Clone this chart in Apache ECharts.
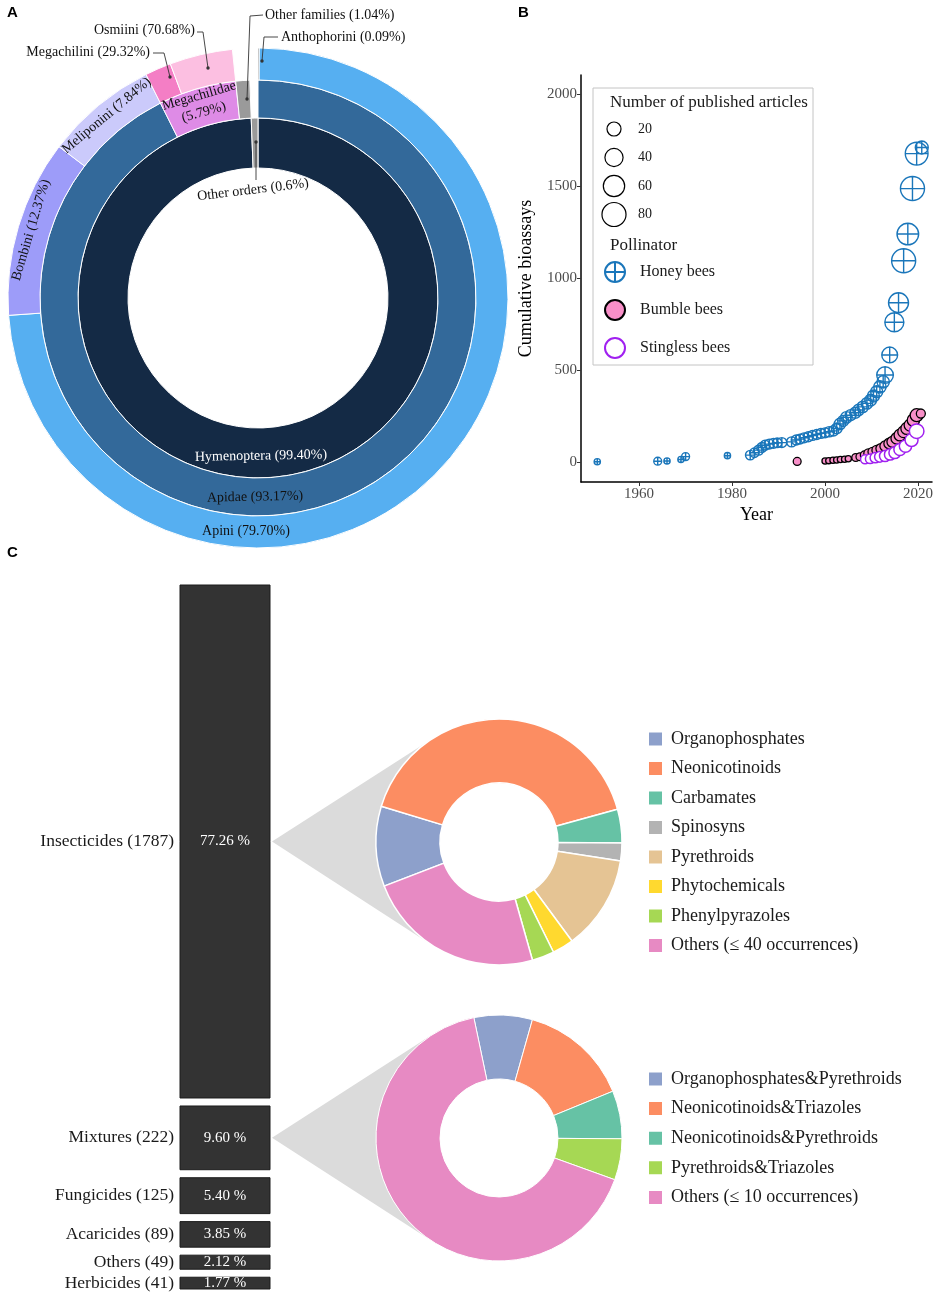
<!DOCTYPE html>
<html><head><meta charset="utf-8">
<script src="https://cdn.jsdelivr.net/npm/echarts@6/dist/echarts.min.js"></script>
<style>html,body{margin:0;padding:0;background:#fff}#c{width:942px;height:1299px}</style>
</head><body><div id="c"></div>
<script>
// ---------- Panel A data ----------
const orderNames = ['Hymenoptera', 'Other orders'];
const orderPct = [99.40, 0.6];
const familyNames = ['Apidae', 'Megachilidae', 'Other families'];
const familyPct = [93.17, 5.79, 1.04];
const apidaeTribeNames = ['Anthophorini', 'Apini', 'Bombini', 'Meliponini'];
const apidaeTribePct = [0.09, 79.70, 12.37, 7.84];
const megaTribeNames = ['Megachilini', 'Osmiini'];
const megaTribePct = [29.32, 70.68];

// ---------- Panel B data ----------
const honeyYear = [1951,1964,1966,1969,1970,1979,1983.9,1984.8,1985.7,1986.4,1987.1,1988,1988.9,1989.7,1990.7,1992.8,1993.8,1994.6,1995.5,1996.4,1997.3,1998.2,1999.1,2000,2000.9,2001.8,2002.5,2003.2,2003.9,2004.6,2005.5,2006.5,2007.2,2008.1,2009,2009.8,2010.4,2011.1,2011.8,2012.5,2012.9,2013.9,2014.9,2015.8,2016.9,2017.8,2018.8,2019.7,2020.8];
const honeyCum = [2,5,6,14,30,35,38,51,65,80,92,98,102,105,106,110,120,125,132,138,145,150,156,159,165,170,183,207,224,243,255,268,283,300,319,337,359,382,409,436,473,582,760,866,1094,1239,1486,1676,1709];
const honeyArticles = [1,3,1,1,3,1,6,6,7,7,7,7,7,6,7,7,7,7,7,7,7,7,7,7,8,8,9,11,10,11,10,10,11,11,11,12,13,13,14,14,32,28,45,51,80,62,80,70,16];
const bumbleYear = [1994,2000,2000.8,2001.7,2002.5,2003.3,2004.2,2005,2006.6,2007.5,2008.5,2009.3,2010.2,2011.1,2012,2012.9,2013.8,2014.5,2015.4,2016.1,2016.9,2017.6,2018.3,2019,2019.7,2020.6];
const bumbleCum = [4,6,8,10,12,14,16,18,25,29,38,47,56,65,74,87,101,110,129,147,165,183,201,228,255,264];
const bumbleArticles = [3,1,1,1,1,1,1,1,3,3,4,5,5,6,7,8,9,10,11,12,12,13,13,14,16,5];
const stinglessYear = [2008.6,2009.7,2010.8,2011.8,2012.9,2014,2015,2016.1,2017.3,2018.6,2019.7];
const stinglessCum = [15,18,24,29,33,42,51,69,87,120,168];
const stinglessArticles = [5,6,8,9,10,11,12,13,14,16,22];
const sizeLegendValues = [20, 40, 60, 80];
const yTicks = [0, 500, 1000, 1500, 2000];
const xTicks = [1960, 1980, 2000, 2020];

// ---------- Panel C data ----------
const classNames = ['Insecticides', 'Mixtures', 'Fungicides', 'Acaricides', 'Others', 'Herbicides'];
const classCounts = [1787, 222, 125, 89, 49, 41];
const insectNames = ['Organophosphates', 'Neonicotinoids', 'Carbamates', 'Spinosyns', 'Pyrethroids', 'Phytochemicals', 'Phenylpyrazoles', 'Others (≤ 40 occurrences)'];
const insectCounts = [188, 733, 79, 42, 222, 50, 52, 421];
const mixNames = ['Organophosphates&Pyrethroids', 'Neonicotinoids&Triazoles', 'Neonicotinoids&Pyrethroids', 'Pyrethroids&Triazoles', 'Others (≤ 10 occurrences)'];
const mixCounts = [17, 32, 14, 12, 147];

// ---------- styles ----------
const SERIF = '"Liberation Serif", "Times New Roman", serif';
const SANS = '"Liberation Sans", Arial, sans-serif';
const orderColors = ['#142a45', '#9a9a9a'];
const familyColors = ['#33699a', '#de8be6', '#9a9a9a'];
const apidaeTribeColors = ['#4a4a4a', '#56aff1', '#9d9cf9', '#cbcafb'];
const megaTribeColors = ['#f47ec5', '#fcbfe1'];
const insectColors = ['#8da0cb', '#fc8d62', '#66c2a5', '#b3b3b3', '#e5c494', '#ffd92f', '#a6d854', '#e78ac3'];
const mixColors = ['#8da0cb', '#fc8d62', '#66c2a5', '#a6d854', '#e78ac3'];
const honeyColor = '#1a76ba';
const A_CENTER = [258, 298];
const GAP = 8;

const sizeOf = v => 4 + 2.24 * Math.sqrt(v);
const pctLabel = (n, p) => n + ' (' + p.toFixed(2) + '%)';

// Panel A rings
const ringLabel = (extra) => Object.assign({show: true, position: 'inside', rotate: 'tangential', fontFamily: SERIF, fontSize: 14, color: '#111'}, extra || {});
const blank = v => ({name: '', value: v, itemStyle: {color: 'rgba(0,0,0,0)', borderWidth: 0}, label: {show: false}});

const ring1 = orderNames.map((n, i) => ({
  name: n, value: orderPct[i], itemStyle: {color: orderColors[i]},
  label: i === 0 ? ringLabel({color: '#fff', formatter: pctLabel(n, orderPct[i])}) : {show: false}
}));
const hym = orderPct[0] / 100;
const ring2 = familyNames.map((n, i) => ({
  name: n, value: hym * familyPct[i], itemStyle: {color: familyColors[i]},
  label: i === 1 ? ringLabel({formatter: n + '\n(' + familyPct[i].toFixed(2) + '%)', lineHeight: 17}) : {show: false}
})).concat([blank(orderPct[1])]);
const apid = hym * familyPct[0] / 100, mega = hym * familyPct[1] / 100;
const ring3 = apidaeTribeNames.map((n, i) => ({
  name: n, value: apid * apidaeTribePct[i], itemStyle: {color: apidaeTribeColors[i]},
  label: (i === 2 || i === 3) ? ringLabel({formatter: pctLabel(n, apidaeTribePct[i])}) : {show: false}
})).concat(megaTribeNames.map((n, i) => ({
  name: n, value: mega * megaTribePct[i], itemStyle: {color: megaTribeColors[i]}, label: {show: false}
}))).concat([blank(hym * familyPct[2] + orderPct[1])]);

function ringSeries(data, radius) {
  return {type: 'pie', center: A_CENTER, radius: radius, startAngle: 90, clockwise: true, silent: true,
    itemStyle: {borderColor: '#fff', borderWidth: 1}, labelLine: {show: false}, data: data, z: 3};
}

// Panel C bar (cumulative)
const total = classCounts.reduce((a, b) => a + b, 0);
let acc = 0;
const barData = classCounts.map(c => { const r = [acc, acc + c]; acc += c; return r; });
const BAR_TOP = 585, BAR_H = 664;
const barMidY = i => BAR_TOP + (barData[i][0] + classCounts[i] / 2) * BAR_H / total + i * GAP;

// cone polygons
function conePoints(ax, ay, cx, cy, R) {
  const dx = ax - cx, dy = ay - cy, d = Math.hypot(dx, dy);
  const base = Math.atan2(dy, dx), t = Math.acos(R / d);
  const pts = [[ax, ay]];
  for (let k = 0; k <= 40; k++) { const a = base - t + 2 * t * k / 40; pts.push([cx + R * Math.cos(a), cy + R * Math.sin(a)]); }
  return pts;
}
const P1 = [499, 842], P2 = [499, 1138], PR = [59, 123];

// graphic helpers
function txt(x, y, text, o) {
  o = o || {};
  return {type: 'text', x: x, y: y, rotation: o.rot || 0, z: 10,
    style: {text: text, font: (o.weight || '') + ' ' + (o.size || 14) + 'px ' + (o.family || SERIF), fill: o.color || '#111',
      align: o.align || 'left', textAlign: o.align || 'left', verticalAlign: o.va || 'middle', textVerticalAlign: o.va || 'middle'}};
}
const leader = pts => ({type: 'polyline', z: 10, shape: {points: pts}, style: {stroke: '#333', lineWidth: 0.9, fill: null}});
const dot = (x, y) => ({type: 'circle', z: 10, shape: {cx: x, cy: y, r: 1.7}, style: {fill: '#333'}});

const graphics = [
  txt(7, 13, 'A', {family: SANS, weight: 'bold', size: 15, color: '#000'}),
  txt(518, 13, 'B', {family: SANS, weight: 'bold', size: 15, color: '#000'}),
  txt(7, 553, 'C', {family: SANS, weight: 'bold', size: 15, color: '#000'}),
  // Panel A annotations
  txt(195, 30, pctLabel(megaTribeNames[1], megaTribePct[1]), {align: 'right'}),
  leader([[197, 32], [203, 32], [208, 68]]), dot(208, 68),
  txt(150, 52, pctLabel(megaTribeNames[0], megaTribePct[0]), {align: 'right'}),
  leader([[153, 53], [164, 53], [170, 77]]), dot(170, 77),
  txt(265, 15, pctLabel(familyNames[2], familyPct[2])),
  leader([[263, 15], [250, 16], [247, 99]]), dot(247, 99),
  txt(281, 37, pctLabel(apidaeTribeNames[0], apidaeTribePct[0])),
  leader([[278, 37], [264, 37], [262, 61]]), dot(262, 61),
  leader([[256, 142], [256, 180]]), dot(256, 142),
  txt(253, 190, orderNames[1] + ' (' + orderPct[1] + '%)', {align: 'center', rot: 0.12}),
  txt(255, 497, pctLabel(familyNames[0], familyPct[0]), {align: 'center', rot: 0.02}),
  txt(246, 531, pctLabel(apidaeTribeNames[1], apidaeTribePct[1]), {align: 'center'}),
  // Panel B legend box
  {type: 'rect', z: 0, shape: {x: 593, y: 88, width: 220, height: 277}, style: {fill: '#fff', stroke: '#c4c4c4', lineWidth: 1}},
  txt(610, 103, 'Number of published articles', {size: 17, color: '#1a1a1a'}),
  txt(610, 246, 'Pollinator', {size: 17, color: '#1a1a1a'}),
  // Panel C cones
  {type: 'polygon', z: 0, shape: {points: conePoints(272, barMidY(0), P1[0], P1[1], PR[1])}, style: {fill: '#dbdbdb'}},
  {type: 'polygon', z: 0, shape: {points: conePoints(272, barMidY(1), P2[0], P2[1], PR[1])}, style: {fill: '#dbdbdb'}}
];
sizeLegendValues.forEach((v, i) => {
  const cy = 129 + i * 28.5;
  graphics.push({type: 'circle', z: 10, shape: {cx: 614, cy: cy, r: sizeOf(v) / 2}, style: {fill: '#fff', stroke: '#000', lineWidth: 1.2}});
  graphics.push(txt(638, cy, String(v), {size: 14, color: '#1a1a1a'}));
});

const honeyPath = 'path://M10,0A10,10,0,1,1,-10,0A10,10,0,1,1,10,0ZM-10,0L10,0M0,-10L0,10';
const zip3 = (a, b, c) => a.map((x, i) => [x, b[i], c[i]]);
const axisText = {fontFamily: SERIF, fontSize: 15, color: '#4d4d4d', formatter: v => String(v)};

const option = {
  animation: false,
  backgroundColor: '#fff',
  graphic: {elements: graphics},
  grid: [
    {left: 581, top: 75, width: 351, height: 407},
    {left: 180, top: BAR_TOP, width: 90, height: BAR_H}
  ],
  xAxis: [
    {gridIndex: 0, type: 'value', min: 1947.5, max: 2023, name: 'Year', nameLocation: 'middle', nameGap: 24,
      nameTextStyle: {fontFamily: SERIF, fontSize: 18, color: '#000'},
      axisLine: {show: true, onZero: false, lineStyle: {color: '#000', width: 1.5}},
      axisTick: {show: true, length: 4, customValues: xTicks, lineStyle: {color: '#333'}},
      axisLabel: Object.assign({customValues: xTicks, margin: 5}, axisText), splitLine: {show: false}},
    {gridIndex: 1, type: 'value', min: 0, max: 1, show: false}
  ],
  yAxis: [
    {gridIndex: 0, type: 'value', min: -108, max: 2103, name: 'Cumulative bioassays', nameLocation: 'middle', nameGap: 46, nameRotate: 90,
      nameTextStyle: {fontFamily: SERIF, fontSize: 18, color: '#000'},
      axisLine: {show: true, onZero: false, lineStyle: {color: '#000', width: 1.5}},
      axisTick: {show: true, length: 4, customValues: yTicks, lineStyle: {color: '#333'}},
      axisLabel: Object.assign({customValues: yTicks, margin: 4}, axisText), splitLine: {show: false}},
    {gridIndex: 1, type: 'value', min: 0, max: total, inverse: true, show: false}
  ],
  legend: [
    {data: ['Honey bees', 'Bumble bees', 'Stingless bees'], orient: 'vertical', left: 604, top: 261, padding: 0,
      itemWidth: 20, itemHeight: 20, itemGap: 16, selectedMode: false,
      textStyle: {fontFamily: SERIF, fontSize: 16, color: '#1a1a1a', padding: [0, 0, 0, 10]}},
    {data: insectNames.map(n => ({name: n, icon: 'rect'})), orient: 'vertical', left: 647, top: 730, padding: 0,
      itemWidth: 15, itemHeight: 15, itemGap: 11.5, selectedMode: false,
      textStyle: {fontFamily: SERIF, fontSize: 18, color: '#1a1a1a', padding: [0, 0, 0, 3]}},
    {data: mixNames.map(n => ({name: n, icon: 'rect'})), orient: 'vertical', left: 647, top: 1070, padding: 0,
      itemWidth: 15, itemHeight: 15, itemGap: 11.6, selectedMode: false,
      textStyle: {fontFamily: SERIF, fontSize: 18, color: '#1a1a1a', padding: [0, 0, 0, 3]}}
  ],
  series: [
    ringSeries(ring1, [130, 180]),
    ringSeries(ring2, [180, 218]),
    ringSeries(ring3, [218, 250]),
    {type: 'scatter', name: 'Honey bees', xAxisIndex: 0, yAxisIndex: 0, symbol: honeyPath,
      symbolSize: v => sizeOf(v[2]), data: zip3(honeyYear, honeyCum, honeyArticles),
      itemStyle: {color: 'rgba(255,255,255,0)', borderColor: honeyColor, borderWidth: 1.4, opacity: 1}},
    {type: 'scatter', name: 'Bumble bees', xAxisIndex: 0, yAxisIndex: 0, symbol: 'circle',
      symbolSize: v => sizeOf(v[2]), data: zip3(bumbleYear, bumbleCum, bumbleArticles),
      itemStyle: {color: '#f88fc8', borderColor: '#000', borderWidth: 1.3, opacity: 1}},
    {type: 'scatter', name: 'Stingless bees', xAxisIndex: 0, yAxisIndex: 0, symbol: 'circle',
      symbolSize: v => sizeOf(v[2]), data: zip3(stinglessYear, stinglessCum, stinglessArticles),
      itemStyle: {color: '#fff', borderColor: '#a020f0', borderWidth: 1.5, opacity: 1}},
    {type: 'custom', xAxisIndex: 1, yAxisIndex: 1, clip: false, data: barData, silent: true,
      renderItem: function (params, api) {
        const i = params.dataIndex;
        const p0 = api.coord([0, api.value(0)]), p1 = api.coord([1, api.value(1)]);
        const y0 = p0[1] + i * GAP, y1 = p1[1] + i * GAP, x0 = p0[0], x1 = p1[0];
        const ym = (y0 + y1) / 2;
        return {type: 'group', children: [
          {type: 'rect', shape: {x: x0, y: y0, width: x1 - x0, height: y1 - y0}, style: {fill: '#333333', stroke: '#1c1c1c', lineWidth: 1}},
          {type: 'text', x: (x0 + x1) / 2, y: ym, style: {text: (classCounts[i] / total * 100).toFixed(2) + ' %', fill: '#fff',
            font: '15px ' + SERIF, align: 'center', verticalAlign: 'middle', textAlign: 'center', textVerticalAlign: 'middle'}},
          {type: 'text', x: x0 - 6, y: ym, style: {text: classNames[i] + ' (' + classCounts[i] + ')', fill: '#1a1a1a',
            font: '17.5px ' + SERIF, align: 'right', verticalAlign: 'middle', textAlign: 'right', textVerticalAlign: 'middle'}}
        ]};
      }},
    {type: 'pie', center: P1, radius: PR, startAngle: 201, clockwise: true, silent: true, z: 3,
      label: {show: false}, labelLine: {show: false}, itemStyle: {borderColor: '#fff', borderWidth: 1.5},
      data: insectNames.map((n, i) => ({name: n, value: insectCounts[i], itemStyle: {color: insectColors[i]}}))},
    {type: 'pie', center: P2, radius: PR, startAngle: 101.8, clockwise: true, silent: true, z: 3,
      label: {show: false}, labelLine: {show: false}, itemStyle: {borderColor: '#fff', borderWidth: 1},
      data: mixNames.map((n, i) => ({name: n, value: mixCounts[i], itemStyle: {color: mixColors[i]}}))}
  ]
};
const chart = echarts.init(document.getElementById('c'), null, {renderer: 'canvas'});
chart.setOption(option);
</script></body></html>
